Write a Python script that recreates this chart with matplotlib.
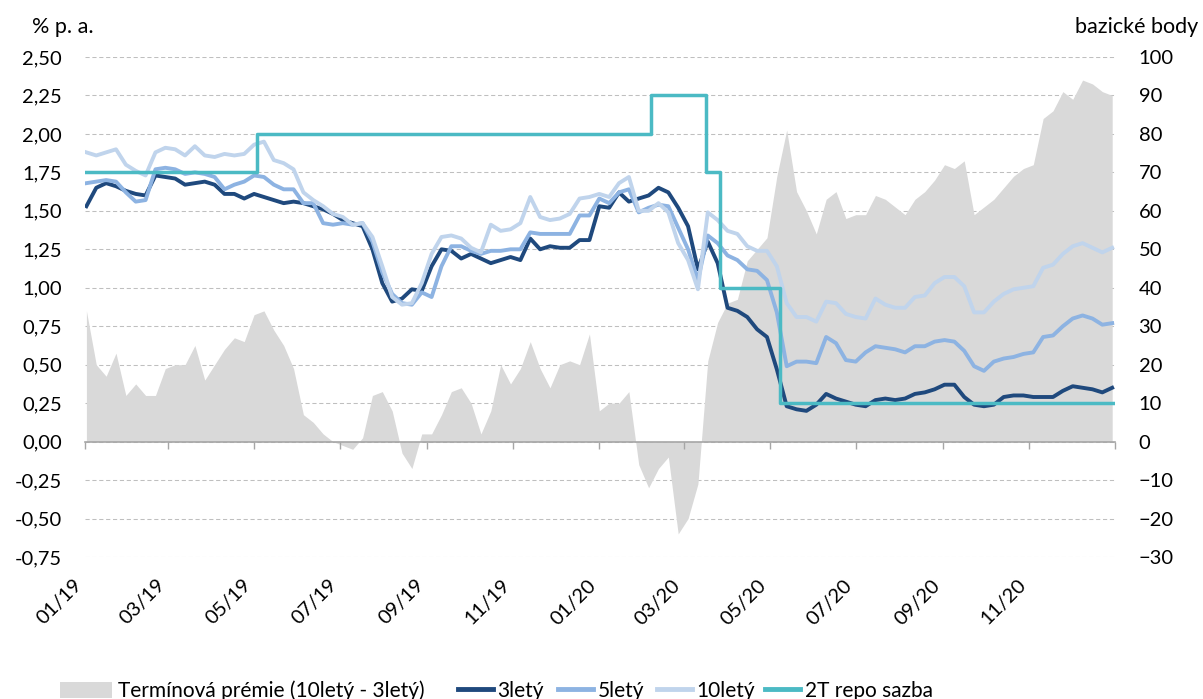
import numpy as np
import pandas as pd
import matplotlib
matplotlib.use("Agg")
import matplotlib.pyplot as plt
import matplotlib.patches as mpatches
from matplotlib.lines import Line2D
from matplotlib.ticker import FuncFormatter, FixedLocator, FixedFormatter

plt.rcParams['font.family'] = ['Lato', 'DejaVu Sans']

# týdenní pozorování (st) 2019-01-02 .. 2020-12-30
dates = pd.date_range('2019-01-02', periods=105, freq='7D')

# výnosy SD, % p.a.
y3 = [1.53, 1.65, 1.68, 1.66, 1.63, 1.61, 1.60, 1.73, 1.72, 1.71, 1.67, 1.68, 1.69, 1.67, 1.61,
      1.61, 1.58, 1.61, 1.59, 1.57, 1.55, 1.56, 1.55, 1.53, 1.51, 1.48, 1.44,
      1.42, 1.40, 1.25, 1.03, 0.91, 0.93, 0.99, 0.98, 1.14, 1.25, 1.24, 1.19, 1.22, 1.19,
      1.16, 1.18, 1.20, 1.18, 1.32, 1.25, 1.27, 1.26, 1.26, 1.31, 1.31, 1.53, 1.52,
      1.62, 1.56, 1.58, 1.60, 1.65, 1.62, 1.52, 1.40, 1.12, 1.30, 1.16, 0.87, 0.85, 0.81,
      0.73, 0.68, 0.47, 0.23, 0.21, 0.20, 0.24, 0.31, 0.28, 0.26, 0.24, 0.23,
      0.27, 0.28, 0.27, 0.28, 0.31, 0.32, 0.34, 0.37, 0.37, 0.29, 0.24, 0.23, 0.24, 0.29,
      0.30, 0.30, 0.29, 0.29, 0.29, 0.33, 0.36, 0.35, 0.34, 0.32, 0.35]
y5 = [1.68, 1.69, 1.70, 1.69, 1.62, 1.56, 1.57, 1.77, 1.78, 1.77, 1.74, 1.75, 1.74, 1.72, 1.64,
      1.67, 1.69, 1.73, 1.72, 1.67, 1.64, 1.64, 1.55, 1.55, 1.42, 1.41, 1.42,
      1.41, 1.42, 1.30, 1.10, 0.96, 0.90, 0.89, 0.97, 0.94, 1.14, 1.27, 1.27, 1.24, 1.22,
      1.24, 1.24, 1.25, 1.25, 1.36, 1.35, 1.35, 1.35, 1.35, 1.47, 1.47, 1.58, 1.55,
      1.62, 1.64, 1.49, 1.52, 1.54, 1.53, 1.39, 1.25, 1.05, 1.34, 1.29, 1.21, 1.18, 1.12,
      1.11, 1.05, 0.84, 0.49, 0.52, 0.52, 0.51, 0.68, 0.64, 0.53, 0.52, 0.58,
      0.62, 0.61, 0.60, 0.58, 0.62, 0.62, 0.65, 0.66, 0.65, 0.59, 0.49, 0.46, 0.52, 0.54,
      0.55, 0.57, 0.58, 0.68, 0.69, 0.75, 0.80, 0.82, 0.80, 0.76, 0.77]
y10 = [1.88, 1.86, 1.88, 1.90, 1.80, 1.76, 1.73, 1.88, 1.91, 1.90, 1.86, 1.92, 1.86, 1.85, 1.87,
       1.86, 1.87, 1.93, 1.95, 1.83, 1.81, 1.77, 1.62, 1.57, 1.53, 1.48, 1.46,
       1.41, 1.42, 1.33, 1.14, 0.94, 0.89, 0.90, 1.03, 1.22, 1.33, 1.34, 1.32, 1.26, 1.23,
       1.41, 1.37, 1.38, 1.42, 1.59, 1.46, 1.44, 1.45, 1.48, 1.58, 1.59, 1.61, 1.59,
       1.68, 1.72, 1.50, 1.50, 1.55, 1.49, 1.29, 1.18, 0.99, 1.49, 1.44, 1.37, 1.35, 1.27,
       1.24, 1.24, 1.14, 0.90, 0.81, 0.81, 0.78, 0.91, 0.90, 0.83, 0.81, 0.80,
       0.93, 0.89, 0.87, 0.87, 0.94, 0.95, 1.03, 1.07, 1.07, 1.01, 0.84, 0.84, 0.91, 0.96,
       0.99, 1.00, 1.01, 1.13, 1.15, 1.22, 1.27, 1.29, 1.26, 1.23, 1.26]

# termínová prémie (10letý - 3letý), bazické body
premie = [34, 20, 17, 23, 12, 15, 12, 12, 19, 20, 20, 25, 16, 20, 24, 27, 26, 33, 34, 29,
          25, 19, 7, 5, 2, 0, -1,
          -2, 1, 12, 13, 8, -3, -7, 2, 2, 7, 13, 14, 10, 2, 8, 20, 15, 19, 26, 19, 14, 20,
          21, 20, 28, 8, 10,
          10, 13, -6, -12, -7, -4, -24, -20, -11, 21, 31, 36, 37, 47, 50, 53, 69, 81, 65, 60,
          54, 63, 65, 58, 59, 59,
          64, 63, 61, 59, 63, 65, 68, 72, 71, 73, 59, 61, 63, 66, 69, 71, 72, 84, 86, 91,
          89, 94, 93, 91, 90]

# 2T repo sazba ČNB
repo_dates = pd.to_datetime(['2019-01-01', '2019-05-03', '2020-02-07', '2020-03-17',
                             '2020-03-27', '2020-05-08', '2020-12-31'])
repo = [1.75, 2.00, 2.25, 1.75, 1.00, 0.25, 0.25]

c3, c5, c10, crepo, cgray = '#1F497D', '#8DB3E2', '#C0D4EC', '#4BBAC4', '#D9D9D9'

fig = plt.figure(figsize=(12.03, 6.99), dpi=100)
ax = fig.add_axes([85 / 1203, 1 - 557 / 699, 1030 / 1203, 500 / 699])
axr = ax.twinx()
ax.set_zorder(axr.get_zorder() + 1)
ax.patch.set_visible(False)

# pravá osa - prémie
axr.fill_between(dates, premie, 0, color=cgray, linewidth=0)
axr.set_ylim(-30, 100)
axr.yaxis.set_major_locator(FixedLocator(np.arange(-30, 101, 10)))
axr.yaxis.grid(True, color='#BFBFBF', linestyle=(0, (4, 2.6)), linewidth=0.75)
axr.set_axisbelow(True)
axr.tick_params(axis='y', length=0, pad=17, labelsize=14.5)
for s in axr.spines.values():
    s.set_visible(False)

# levá osa - výnosy
ax.plot(dates, y3, color=c3, lw=2.8)
ax.plot(dates, y5, color=c5, lw=2.8)
ax.plot(dates, y10, color=c10, lw=2.8)
ax.plot(repo_dates, repo, color=crepo, lw=2.5, drawstyle='steps-post')

ax.set_ylim(-0.75, 2.5)
ax.yaxis.set_major_locator(FixedLocator(np.arange(-0.75, 2.51, 0.25)))
ax.yaxis.set_major_formatter(FuncFormatter(lambda v, p: f'{v:.2f}'.replace('.', ',')))
ax.tick_params(axis='y', length=0, pad=16.5, labelsize=14.5)

ax.set_xlim(pd.Timestamp('2019-01-01'), pd.Timestamp('2021-01-01'))
xt = pd.date_range('2019-01-01', '2021-01-01', freq='2MS')
xlabels = [d.strftime('%m/%y') if d.year <= 2020 else '' for d in xt]
ax.set_xticks(xt)
ax.xaxis.set_major_formatter(FixedFormatter(xlabels))
ax.tick_params(axis='x', direction='out', length=5, width=1, color='#A6A6A6', pad=92,
               labelsize=14.5, labelrotation=45)

for side in ['top', 'left', 'right']:
    ax.spines[side].set_visible(False)
ax.spines['bottom'].set_position(('data', 0))
ax.spines['bottom'].set_color('#A6A6A6')
ax.spines['bottom'].set_linewidth(1.2)

fig.text(32 / 1203, 1 - 27 / 699, '% p. a.', fontsize=15.5, ha='left', va='center')
fig.text(1198 / 1203, 1 - 27 / 699, 'bazické body', fontsize=15.5, ha='right', va='center')

# legenda - každá položka zvlášť, aby seděly rozestupy
leg_items = [
    (mpatches.Patch(color=cgray, linewidth=0), 'Termínová prémie (10letý - 3letý)', 60, 2.5, 0.3),
    (Line2D([], [], color=c3, lw=3.5), '3letý', 458, 1.7, 0.2),
    (Line2D([], [], color=c5, lw=3.5), '5letý', 558, 1.7, 0.2),
    (Line2D([], [], color=c10, lw=3.5), '10letý', 657, 1.7, 0.2),
    (Line2D([], [], color=crepo, lw=3.5), '2T repo sazba', 765, 1.7, 0.2),
]
for h, lab, x0, hl, tp in leg_items:
    fig.legend([h], [lab], loc='center left', bbox_to_anchor=(x0 / 1203, 1 - 691 / 699),
               frameon=False, fontsize=15, borderpad=0, borderaxespad=0,
               handlelength=hl, handleheight=0.85, handletextpad=tp)

# zarovnání popisků osy x vpravo (až po vytvoření ticků)
fig.canvas.draw()
for lab in ax.xaxis.get_ticklabels():
    lab.set_horizontalalignment('right')

fig.savefig('out.png', dpi=100)
